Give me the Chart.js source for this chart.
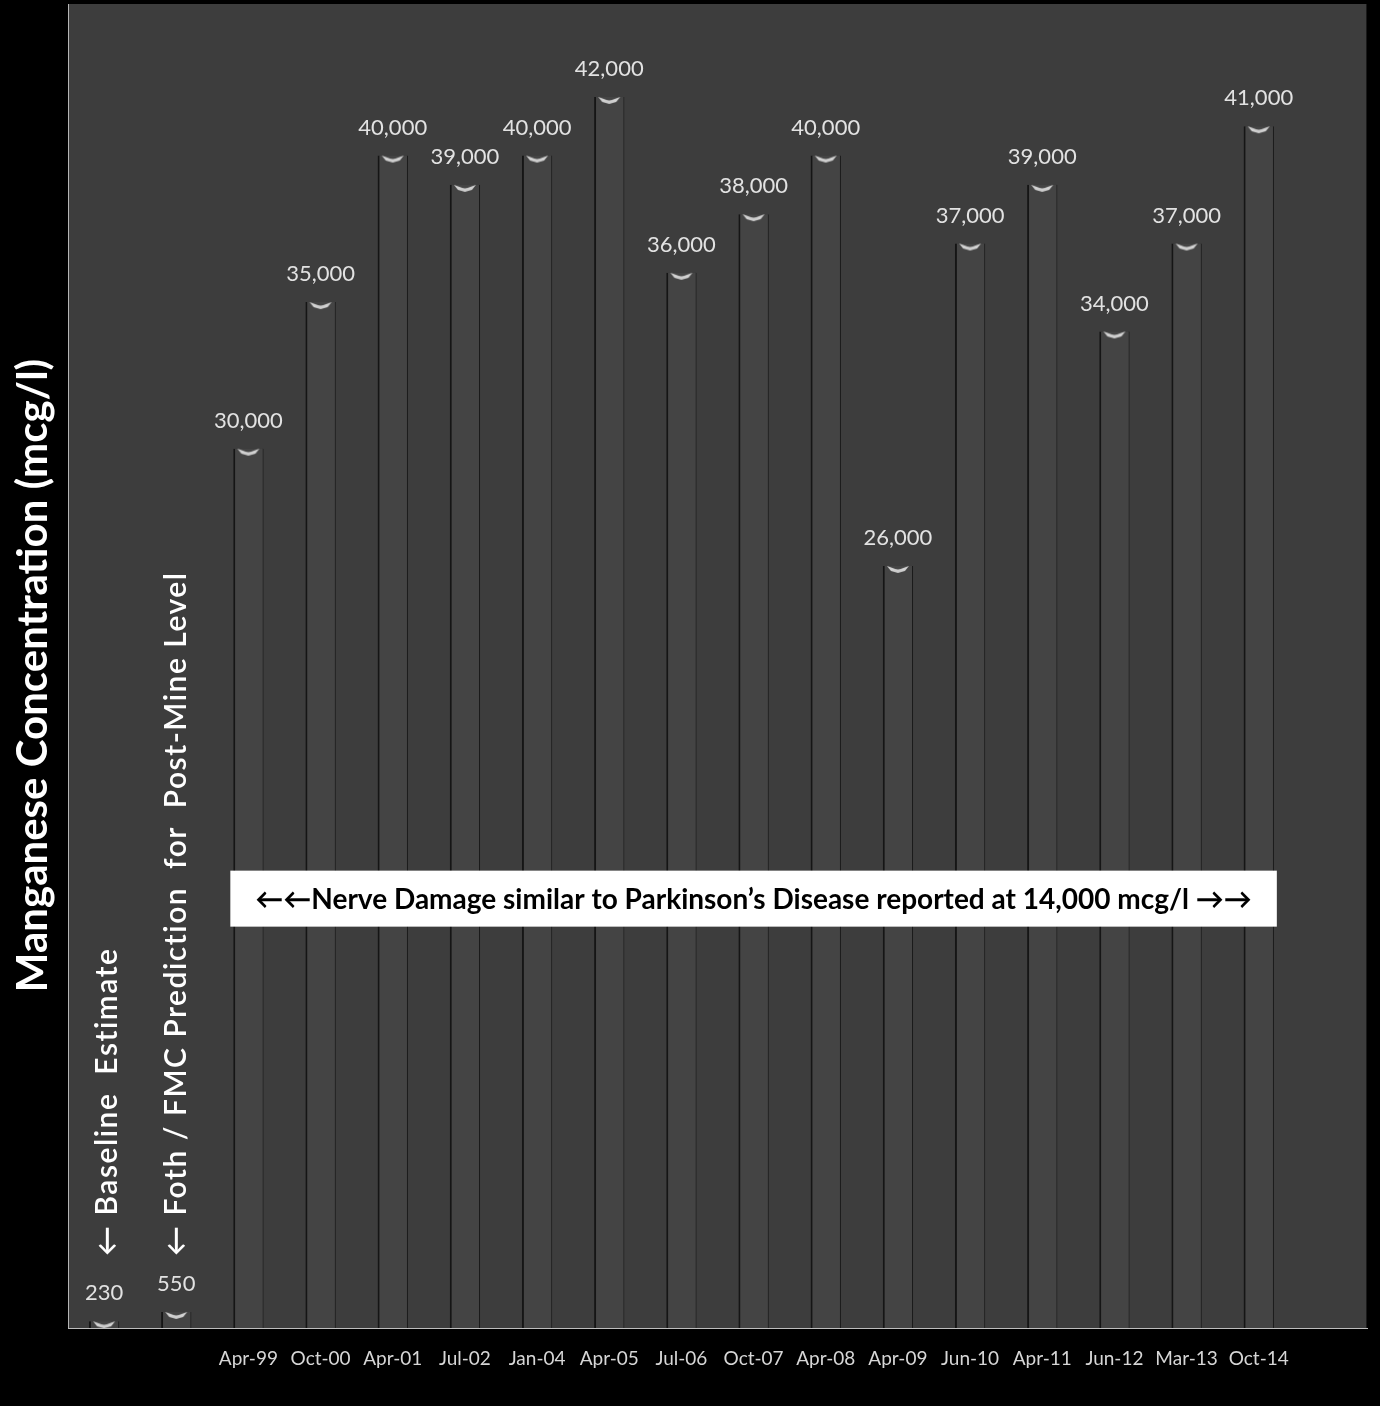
<!DOCTYPE html>
<html>
<head>
<meta charset="utf-8">
<script src="https://cdn.jsdelivr.net/npm/chart.js@4/dist/chart.umd.min.js"></script>
<style>
  html, body { margin: 0; padding: 0; background: #000; }
  #c { display: block; }
</style>
</head>
<body>
<canvas id="c" width="1380" height="1406"></canvas>
<script>
// Sampling dates (the first two slots are the reference levels, the last slot is empty)
const categories = ['', '', 'Apr-99', 'Oct-00', 'Apr-01', 'Jul-02', 'Jan-04', 'Apr-05', 'Jul-06',
  'Oct-07', 'Apr-08', 'Apr-09', 'Jun-10', 'Apr-11', 'Jun-12', 'Mar-13', 'Oct-14', ''];

// Manganese concentration, mcg/l
const concentrations = [230, 550, 30000, 35000, 40000, 39000, 40000, 42000, 36000,
  38000, 40000, 26000, 37000, 39000, 34000, 37000, 41000, null];

// Vertical notes for the two reference levels
const referenceNotes = ['\u2190 Baseline  Estimate', '\u2190 Foth / FMC Prediction  for  Post-Mine Level'];

const yAxisTitle = 'Manganese Concentration (mcg/l)';
const thresholdValue = 14000;
const thresholdNote = '\u2190\u2190Nerve Damage similar to Parkinson\u2019s Disease reported at 14,000 mcg/l \u2192\u2192';
const yMax = 45000;

const FONT = 'Lato, "Open Sans", sans-serif';

// Small white chevron drawn at the top of each column
function makeMarker() {
  const c = document.createElement('canvas');
  c.width = 26; c.height = 18;
  const g = c.getContext('2d');
  g.fillStyle = 'rgba(235,235,235,0.85)';
  g.beginPath();
  g.moveTo(2, 9);
  g.lineTo(13, 13);
  g.lineTo(24, 9);
  g.lineTo(20, 14);
  g.lineTo(13, 16);
  g.lineTo(6, 14);
  g.closePath();
  g.fill();
  g.fillStyle = 'rgba(200,200,200,0.5)';
  g.fillRect(9, 12, 8, 3);
  return c;
}

const plotFrame = {
  id: 'plotFrame',
  beforeDraw(chart) {
    const { ctx, chartArea: a } = chart;
    ctx.save();
    ctx.fillStyle = '#000';
    ctx.fillRect(0, 0, chart.width, chart.height);
    ctx.fillStyle = '#3d3d3d';
    ctx.fillRect(a.left, a.top - 5, a.right - a.left, a.bottom - a.top + 5);
    ctx.strokeStyle = '#b5b5b5';
    ctx.lineWidth = 1;
    ctx.beginPath();
    ctx.moveTo(a.left + 0.5, a.top - 5);
    ctx.lineTo(a.left + 0.5, a.bottom);
    ctx.stroke();
    ctx.strokeStyle = '#1a1a1a';
    ctx.beginPath();
    ctx.moveTo(a.right - 0.5, a.top - 5);
    ctx.lineTo(a.right - 0.5, a.bottom);
    ctx.stroke();

    // axis title
    ctx.translate(33, (a.top + a.bottom) / 2 + 7);
    ctx.rotate(-Math.PI / 2);
    ctx.fillStyle = '#ffffff';
    ctx.font = 'bold 42px ' + FONT;
    ctx.textAlign = 'center';
    ctx.textBaseline = 'middle';
    ctx.fillText(yAxisTitle, 0, 0);
    ctx.restore();
  }
};

const annotations = {
  id: 'annotations',
  afterDatasetsDraw(chart) {
    const { ctx } = chart;
    const x = chart.scales.x, y = chart.scales.y;
    const bars = chart.getDatasetMeta(1).data;
    ctx.save();

    // value labels above each column
    ctx.fillStyle = '#e2e2e2';
    ctx.font = '22px ' + FONT;
    ctx.textAlign = 'center';
    ctx.textBaseline = 'middle';
    bars.forEach((el, i) => {
      const v = concentrations[i];
      if (v === null || v === undefined) return;
      ctx.fillText(v.toLocaleString('en-US'), el.x, el.y - 28);
    });

    // vertical notes for the reference levels
    ctx.fillStyle = '#ffffff';
    ctx.font = '600 30px ' + FONT;
    ctx.letterSpacing = '1.5px';
    ctx.textAlign = 'left';
    ctx.textBaseline = 'middle';
    referenceNotes.forEach((txt, i) => {
      ctx.save();
      ctx.translate(x.getPixelForValue(i) + 3 - i * 3, y.getPixelForValue(0) - 72);
      ctx.rotate(-Math.PI / 2);
      ctx.fillText(txt, 0, 0);
      ctx.restore();
    });
    ctx.letterSpacing = '0px';

    // threshold note box spanning the dated columns
    const first = 2, last = 16;
    const half = (x.getPixelForValue(1) - x.getPixelForValue(0)) / 2;
    const left = x.getPixelForValue(first) - half + 18;
    const right = x.getPixelForValue(last) + half - 18;
    const cy = y.getPixelForValue(thresholdValue) - 19;
    ctx.fillStyle = '#ffffff';
    ctx.fillRect(left, cy - 28, right - left, 56);
    ctx.fillStyle = '#000000';
    ctx.font = 'bold 28px ' + FONT;
    ctx.textAlign = 'center';
    ctx.fillText(thresholdNote, (left + right) / 2, cy + 1);
    ctx.restore();
  }
};

new Chart(document.getElementById('c'), {
  data: {
    labels: categories,
    datasets: [
      {
        type: 'line',
        data: concentrations,
        showLine: false,
        pointStyle: makeMarker(),
        pointRadius: 8,
        order: 0
      },
      {
        type: 'bar',
        data: concentrations,
        backgroundColor: '#444444',
        borderColor: '#151515',
        borderWidth: { left: 2, right: 1, top: 0, bottom: 0 },
        borderSkipped: false,
        categoryPercentage: 1,
        barPercentage: 0.42,
        order: 1
      }
    ]
  },
  options: {
    responsive: false,
    animation: false,
    devicePixelRatio: 1,
    layout: { padding: { left: 68, right: 13, top: 8, bottom: 0 } },
    plugins: { legend: { display: false }, tooltip: { enabled: false } },
    scales: {
      x: {
        grid: { display: false, drawTicks: false },
        border: { display: true, color: '#bdbdbd', width: 1 },
        ticks: { color: '#d6d6d6', font: { family: FONT, size: 19 }, padding: 19, maxRotation: 0, autoSkip: false },
        afterFit(scale) { scale.height = 78; }
      },
      y: {
        display: false,
        min: 0,
        max: yMax
      }
    }
  },
  plugins: [plotFrame, annotations]
});
</script>
</body>
</html>
